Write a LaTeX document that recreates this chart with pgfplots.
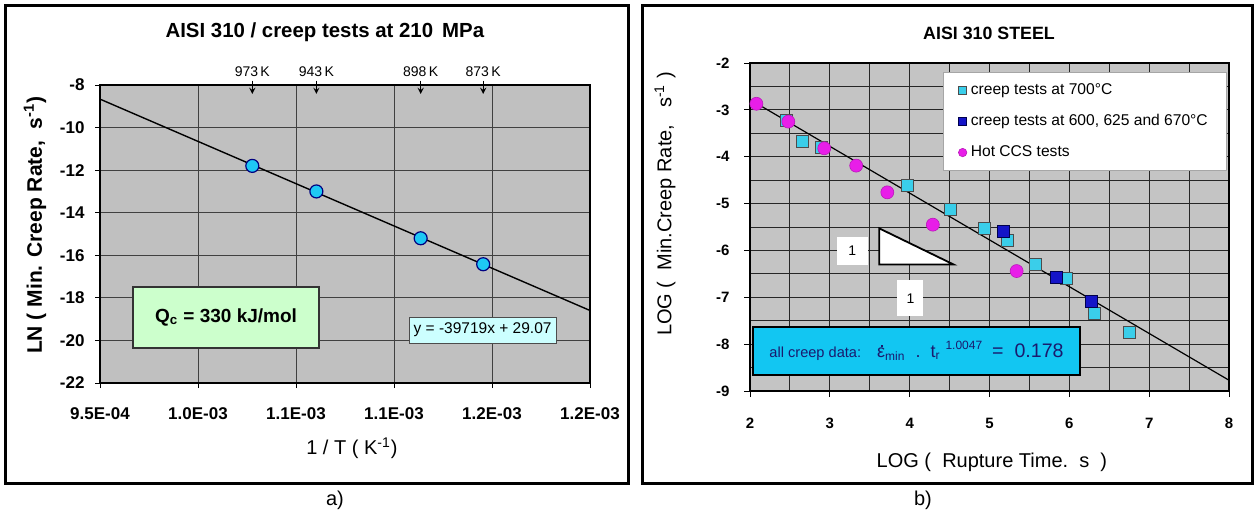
\documentclass[border=0pt]{standalone}
\usepackage{pgfplots}
\pgfplotsset{compat=1.18}
\usepackage{fontspec}
\setmainfont{Liberation Sans}
\definecolor{plotbg}{HTML}{C0C0C0}
\definecolor{plotbgR}{HTML}{C4C4C4}
\definecolor{cyanL}{HTML}{1EC8F5}
\definecolor{cyanR}{HTML}{3ACEEA}
\definecolor{blueR}{HTML}{1414C8}
\definecolor{magR}{HTML}{E81EE8}
\definecolor{annbox}{HTML}{12C6F2}
\definecolor{qbox}{HTML}{CCFFCC}
\definecolor{ybox}{HTML}{CCFFFF}
\definecolor{navytext}{HTML}{1A1A6E}
\begin{document}
\begin{tikzpicture}
\useasboundingbox (0,0) rectangle (628pt,258pt);
% frames
\draw[line width=1.5pt] (2.5pt,16.5pt) rectangle (314pt,255.5pt);
\draw[line width=1.5pt] (321pt,16.5pt) rectangle (626pt,255.5pt);
\node[font=\fontsize{10}{12}\selectfont] at (167.5pt,8pt) {a)};
\node[font=\fontsize{10}{12}\selectfont] at (461.5pt,8pt) {b)};

% ---------------- left chart ----------------
\begin{axis}[
  at={(50pt,66.5pt)}, anchor=south west,
  width=245pt, height=149pt, scale only axis,
  xmin=9.5, xmax=12, ymin=-22, ymax=-8,
  xtick={9.5,10,10.5,11,11.5,12},
  xticklabels={9.5E-04,1.0E-03,1.1E-03,1.1E-03,1.2E-03,1.2E-03},
  ytick={-22,-20,-18,-16,-14,-12,-10,-8},
  /pgf/number format/assume math mode=true,
  ticklabel style={font=\fontsize{8.5}{10}\selectfont\bfseries},
  xticklabel style={yshift=-6.5pt},
  yticklabel style={xshift=-1.7pt},
  tick align=outside, tick pos=left,
  major tick length=2.5pt,
  tick style={black, line width=0.5pt},
  axis line style={black, line width=1pt},
  axis background/.style={fill=plotbg},
  xmajorgrids, ymajorgrids,
  grid style={black!75, line width=0.5pt},
  clip=false,
  title={AISI 310 / creep tests at 210\, MPa},
  title style={font=\fontsize{10.2}{12}\selectfont\bfseries, at={(axis description cs:0.459,1.178)}, anchor=center, yshift=-6pt},
  xlabel={1 / T ( K\textsuperscript{-1})},
  xlabel style={font=\fontsize{10}{12}\selectfont, at={(axis description cs:0.514,-0.218)}, anchor=center},
  ylabel={LN ( Min. Creep Rate,\ \ s\textsuperscript{-1})},
  ylabel style={font=\fontsize{10.5}{12}\selectfont\bfseries, at={(axis description cs:-0.1327,0.53)}, anchor=center},
]
\addplot[only marks, mark=*, mark size=3.25pt, mark options={fill=cyanL, draw=blue!50!black, line width=0.6pt}]
  coordinates {(10.277,-11.8) (10.604,-13.0) (11.136,-15.2) (11.455,-16.42)};
\addplot[black, line width=0.7pt] coordinates {(9.5,-8.663) (12,-18.593)};
% temperature arrows
\foreach \xx/\lab in {10.277/973, 10.604/943, 11.136/898, 11.455/873}{
  \edef\tmp{\noexpand\node[font=\noexpand\fontsize{7}{8}\noexpand\selectfont] at (axis cs:\xx,-7.39) {\lab\noexpand\,K};
  \noexpand\draw[->, >=stealth, line width=0.4pt] (axis cs:\xx,-7.8) -- (axis cs:\xx,-8.42);}
  \tmp
}
\node[draw=black!80, line width=0.6pt, fill=qbox, minimum width=93pt, minimum height=30.5pt,
      font=\fontsize{9.5}{11}\selectfont\bfseries] at (axis cs:10.143,-18.92) {Q\textsubscript{c} = 330 kJ/mol};
\node[draw=black!70, line width=0.5pt, fill=ybox, minimum width=73.5pt, minimum height=13pt, inner sep=1pt,
      font=\fontsize{7.75}{9}\selectfont] at (axis cs:11.452,-19.51) {y = -39719x + 29.07};
\end{axis}

% ---------------- right chart ----------------
\begin{axis}[
  at={(375pt,62.5pt)}, anchor=south west,
  width=239.5pt, height=164pt, scale only axis,
  xmin=2, xmax=8, ymin=-9, ymax=-2,
  xtick={2,3,4,5,6,7,8}, ytick={-9,-8,-7,-6,-5,-4,-3,-2},
  minor tick num=1,
  /pgf/number format/assume math mode=true,
  ticklabel style={font=\fontsize{7.5}{9}\selectfont\bfseries},
  xticklabel style={yshift=-7pt},
  yticklabel style={xshift=-3.7pt},
  tick align=outside, tick pos=left,
  major tick length=3pt, minor tick length=0pt,
  tick style={black, line width=0.5pt},
  axis line style={black, line width=0.8pt},
  axis background/.style={fill=plotbgR},
  grid=both,
  major grid style={black!85, line width=0.5pt},
  minor grid style={black!85, line width=0.5pt},
  clip=false,
  title={AISI 310 STEEL},
  title style={font=\fontsize{8.9}{11}\selectfont\bfseries, at={(axis description cs:0.499,1.0915)}, anchor=center, yshift=-6pt},
  xlabel={LOG (\ \ Rupture Time.\ \ s\ \ )},
  xlabel style={font=\fontsize{10}{12}\selectfont, at={(axis description cs:0.505,-0.2165)}, anchor=center},
  ylabel={LOG (\ \ Min.Creep Rate,\ \ \ s\textsuperscript{-1}\ )},
  ylabel style={font=\fontsize{10}{12}\selectfont, at={(axis description cs:-0.1775,0.57)}, anchor=center},
  legend cell align=left,
  legend image code/.code={\draw[#1, mark size=2.1pt] plot coordinates {(0pt,0pt)};},
  legend style={at={(0.403,0.9726)}, anchor=north west, draw=black!35, fill=white,
    font=\fontsize{7.8}{9}\selectfont, inner xsep=7.5pt, inner ysep=3.5pt, row sep=4.5pt,
    /tikz/every odd column/.style={column sep=0pt}},
]
\addplot[only marks, mark=square*, mark size=3pt, mark options={fill=cyanR, draw=black!70, line width=0.4pt}]
  coordinates {(2.45,-3.23) (2.65,-3.67) (2.90,-3.81) (3.97,-4.61) (4.51,-5.13) (4.93,-5.53)
               (5.23,-5.79) (5.57,-6.29) (5.96,-6.60) (6.31,-7.34) (6.75,-7.75)};
\addlegendentry{creep tests at 700°C}
\addplot[only marks, mark=square*, mark size=3pt, mark options={fill=blueR, draw=blue!30!black, line width=0.4pt}]
  coordinates {(5.17,-5.60) (5.84,-6.58) (6.28,-7.09)};
\addlegendentry{creep tests at 600, 625 and 670°C}
\addplot[only marks, mark=*, mark size=3.25pt, mark options={fill=magR, draw=magR!80!black, line width=0.3pt}]
  coordinates {(2.08,-2.87) (2.48,-3.25) (2.93,-3.82) (3.33,-4.19) (3.72,-4.76) (4.29,-5.45) (5.34,-6.44)};
\addlegendentry{Hot CCS tests}
\addplot[black, line width=0.6pt, forget plot] coordinates {(2.08,-2.86) (8,-8.77)};
% slope triangle and labels
\draw[fill=white, line width=0.9pt] (axis cs:3.62,-5.53) -- (axis cs:3.62,-6.30) -- (axis cs:4.55,-6.30) -- cycle;
\node[fill=white, minimum width=15.5pt, minimum height=14pt, inner sep=0pt,
      font=\fontsize{7}{8}\selectfont\rmfamily] at (axis cs:3.28,-6.01) {1};
\node[fill=white, minimum width=13pt, minimum height=18pt, inner sep=0pt,
      font=\fontsize{7}{8}\selectfont\rmfamily] at (axis cs:4.01,-7.02) {1};
\node[draw=black, line width=1pt, fill=annbox, minimum width=163.5pt, minimum height=24pt, inner sep=0pt,
      text=navytext] at (axis cs:4.086,-8.146)
  {{\fontsize{7.3}{8}\selectfont all creep data:}\hspace{8pt}{\fontsize{9}{10}\selectfont\rlap{\hspace{0.2em}\raisebox{0.62em}{\rule{0.9pt}{0.9pt}}}ε\textsubscript{min}\ \ .\ \ t\textsubscript{r}\ \raisebox{4pt}{\fontsize{6}{7}\selectfont 1.0047}\ \ {\fontsize{9.8}{10}\selectfont = \ 0.178}}};
\end{axis}
\end{tikzpicture}
\end{document}
